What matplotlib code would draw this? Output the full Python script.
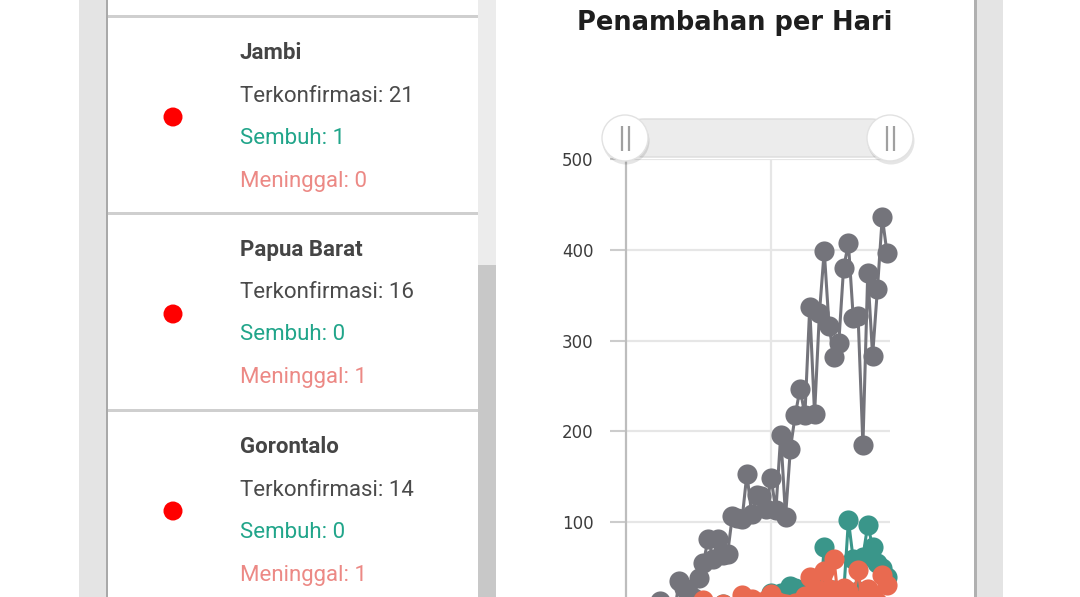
import matplotlib
matplotlib.use("Agg")
import matplotlib.pyplot as plt
from matplotlib.patches import Rectangle, Circle, FancyBboxPatch

# daily additions, 2 Mar -> 25 Apr (day index 0..54)
days = list(range(55))
confirmed = [2, 0, 0, 0, 2, 0, 2, 13, 8, 7, 0, 35, 27, 21, 17, 38, 55, 82, 60, 81,
             64, 65, 107, 105, 103, 153, 109, 130, 129, 114, 149, 113, 196, 106, 181,
             218, 247, 218, 337, 219, 330, 399, 316, 282, 297, 380, 407, 325, 327, 185,
             375, 283, 357, 436, 396]
recovered = [0, 0, 0, 0, 0, 0, 0, 0, 0, 0, 0, 3, 0, 5, 0, 1, 2, 4, 1, 4,
             10, 0, 1, 1, 4, 11, 13, 5, 11, 6, 22, 9, 22, 16, 30,
             28, 12, 18, 30, 30, 4, 73, 21, 25, 21, 20, 102, 59, 24, 62,
             97, 73, 55, 50, 40]
deaths = [0, 0, 0, 0, 0, 0, 0, 0, 0, 1, 0, 3, 1, 0, 0, 0, 14, 6, 7, 6,
          10, 1, 6, 3, 20, 9, 15, 12, 8, 14, 21, 13, 11, 10, 7,
          11, 12, 19, 40, 26, 21, 46, 26, 60, 10, 27, 24, 15, 47, 8,
          26, 19, 12, 42, 31]
y_ticks = [100, 200, 300, 400, 500]

provinces = ["Jambi", "Papua Barat", "Gorontalo"]
prov_confirmed = [21, 16, 14]
prov_recovered = [1, 0, 0]
prov_deaths = [0, 1, 1]

title = "Penambahan per Hari"

W, H = 1080, 597
fig = plt.figure(figsize=(W / 100, H / 100), dpi=100)
fig.patch.set_facecolor("white")

# page background, pixel coordinates
bg = fig.add_axes([0, 0, 1, 1], zorder=0)
bg.set_xlim(0, W)
bg.set_ylim(H, 0)
bg.axis("off")

def rect(x0, y0, x1, y1, color):
    bg.add_patch(Rectangle((x0, y0), x1 - x0, y1 - y0, color=color, lw=0))

rect(79, 0, 106, H, "#e4e4e4")
rect(106, 0, 108, H, "#a9a9a9")
rect(478, 0, 496, H, "#ececec")
rect(478, 265, 496, H, "#c8c8c8")
rect(974, 0, 977, H, "#b0b0b0")
rect(977, 0, 1003, H, "#e4e4e4")
for sy in [15, 212, 409]:
    rect(108, sy, 478, sy + 2.5, "#cfcfcf")

txt_font = ["Roboto", "DejaVu Sans"]
block_y = [53, 250, 447]
for i, name in enumerate(provinces):
    y0 = block_y[i]
    bg.add_patch(Circle((173, y0 + 64), 9.5, color="#ff0000", lw=0))
    bg.text(240, y0, name, fontsize=16, fontweight="bold", color="#454545",
            va="center", ha="left", family=txt_font)
    bg.text(240, y0 + 43, f"Terkonfirmasi: {prov_confirmed[i]}", fontsize=16,
            color="#4a4a4a", va="center", ha="left", family=txt_font)
    bg.text(240, y0 + 85, f"Sembuh: {prov_recovered[i]}", fontsize=16,
            color="#21a58a", va="center", ha="left", family=txt_font)
    bg.text(240, y0 + 128, f"Meninggal: {prov_deaths[i]}", fontsize=16,
            color="#ec8985", va="center", ha="left", family=txt_font)

bg.text(735, 23, title, fontsize=18.5, fontweight="bold", color="#1e1e1e",
        ha="center", va="center")

# chart axes: y=0 sits just below the visible bottom
left_px, right_px, top_px, zero_px = 626, 890, 159, 613
ax = fig.add_axes([left_px / W, (H - zero_px) / H,
                   (right_px - left_px) / W, (zero_px - top_px) / H], zorder=1)
ax.patch.set_alpha(0)
ax.set_ylim(0, 500)
ax.set_xlim(0, 54.6)
ax.set_yticks(y_ticks)
ax.set_yticklabels([str(t) for t in y_ticks])
ax.set_xticks([30])
ax.set_xticklabels([""])
ax.tick_params(axis="y", length=11.5, width=1.5, color="#cccccc", pad=12,
               labelsize=12, labelcolor="#3c3c3c")
ax.tick_params(axis="x", length=0)
ax.grid(True, color="#e6e6e6", lw=1.6)
ax.set_axisbelow(True)
for s in ["top", "right", "bottom"]:
    ax.spines[s].set_visible(False)
ax.spines["left"].set_color("#bdbdbd")
ax.spines["left"].set_linewidth(1.6)

series = [(confirmed, "#74747b"), (recovered, "#3a968a"), (deaths, "#e96a50")]
for vals, col in series:
    ax.plot(days, vals, color=col, lw=2.2, marker="o", ms=14.5,
            markeredgewidth=0, clip_on=False)

# range slider on top
ov = fig.add_axes([0, 0, 1, 1], zorder=2)
ov.set_xlim(0, W)
ov.set_ylim(H, 0)
ov.axis("off")
ov.patch.set_alpha(0)
ov.add_patch(FancyBboxPatch((625, 119), 265, 38,
                            boxstyle="round,pad=0,rounding_size=19",
                            fc="#ececec", ec="#dcdcdc", lw=1))
for hx in [625, 890]:
    ov.add_patch(Circle((hx + 1, 141), 23.5, fc="#000000", alpha=0.10, lw=0))
    ov.add_patch(Circle((hx, 138), 23, fc="white", ec="#e2e2e2", lw=1))
    for dx in [-3.5, 3.5]:
        ov.plot([hx + dx, hx + dx], [126, 151], color="#a0a0a0", lw=1.6,
                solid_capstyle="butt")

fig.savefig("out.png", dpi=100)
